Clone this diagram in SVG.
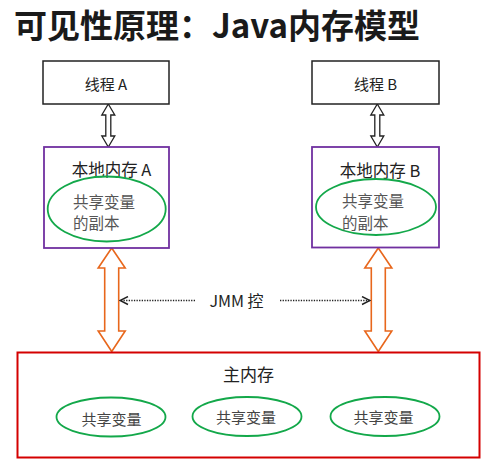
<svg xmlns="http://www.w3.org/2000/svg" width="496" height="468" viewBox="0 0 496 468">
<defs>
<style>
text{font-family:"Noto Sans CJK SC","Noto Sans",sans-serif;fill:#222}
.title{font-size:33px;font-weight:bold;fill:#1a1a1a}
.box{fill:#fff;stroke:#222;stroke-width:1.5}
.local{fill:#fff;stroke:#7030A0;stroke-width:1.8}
.main{fill:#fff;stroke:#D40000;stroke-width:2}
.ell{fill:none;stroke:#13A84A;stroke-width:1.8}
.small{fill:#fff;stroke:#222;stroke-width:1.3;stroke-linejoin:miter}
.big{fill:#fff;stroke:#E8671C;stroke-width:1.6;stroke-linejoin:miter}
.dot{stroke:#222;stroke-width:1.3;stroke-dasharray:1.3 1.3;fill:none}
.lbl{font-size:15px;text-anchor:middle;dominant-baseline:central}
.hd{font-size:16.5px;text-anchor:middle;dominant-baseline:central}
.var{font-size:15.5px;fill:#555}
.mv{font-size:15px;fill:#444;text-anchor:middle;dominant-baseline:central}
</style>
<marker id="chev" viewBox="0 0 10 10" refX="9" refY="5" markerWidth="10" markerHeight="10" markerUnits="userSpaceOnUse" orient="auto-start-reverse">
<path d="M1,1 L9,5 L1,9" fill="none" stroke="#222" stroke-width="1.4"/>
</marker>
</defs>
<text class="title" x="14" y="38">可见性原理：Java内存模型</text>

<g id="connectors">
<path class="small" d="M108.3,104 L114.8,115 L110.8,115 L110.8,136 L114.8,136 L108.3,147 L101.8,136 L105.8,136 L105.8,115 L101.8,115 Z"/>
<path class="small" d="M377.3,104 L383.8,115 L379.8,115 L379.8,136 L383.8,136 L377.3,147 L370.8,136 L374.8,136 L374.8,115 L370.8,115 Z"/>
<path class="big" d="M111.7,248 L125.2,268 L118.7,268 L118.7,331 L125.2,331 L111.7,351.5 L98.2,331 L104.7,331 L104.7,268 L98.2,268 Z"/>
<path class="big" d="M378.3,248 L391.8,268 L385.3,268 L385.3,331 L391.8,331 L378.3,351.5 L364.8,331 L371.3,331 L371.3,268 L364.8,268 Z"/>
<line class="dot" x1="195" y1="300.5" x2="120" y2="300.5" marker-end="url(#chev)"/>
<line class="dot" x1="280" y1="300.5" x2="370" y2="300.5" marker-end="url(#chev)"/>
<text class="hd" x="236.5" y="300" style="font-size:16px">JMM 控</text>
</g>

<g id="threadA">
<rect class="box" x="43" y="61" width="126" height="43"/>
<text class="lbl" x="106" y="83">线程 A</text>
</g>
<g id="threadB">
<rect class="box" x="312" y="61" width="127" height="43"/>
<text class="lbl" x="375.5" y="83">线程 B</text>
</g>

<g id="localA">
<rect class="local" x="44" y="147" width="125" height="101"/>
<text class="hd" x="111.5" y="169">本地内存 A</text>
<ellipse class="ell" cx="106.7" cy="209" rx="59" ry="32.5"/>
<text class="var" x="73" y="207.5"><tspan x="73" y="207.5">共享变量</tspan><tspan x="73" y="228.5">的副本</tspan></text>
</g>
<g id="localB">
<rect class="local" x="312" y="147" width="127" height="100.5"/>
<text class="hd" x="380" y="170">本地内存 B</text>
<ellipse class="ell" cx="376" cy="207" rx="60" ry="28"/>
<text class="var" x="342" y="207"><tspan x="342" y="207">共享变量</tspan><tspan x="342" y="228.5">的副本</tspan></text>
</g>

<g id="mainMemory">
<rect class="main" x="17.5" y="352.5" width="462" height="105"/>
<text class="hd" x="248.5" y="373" style="font-size:17px">主内存</text>
<g id="var1">
<ellipse class="ell" cx="111" cy="417" rx="54.5" ry="19.5"/>
<text class="mv" x="111.5" y="418">共享变量</text>
</g>
<g id="var2">
<ellipse class="ell" cx="247" cy="416.5" rx="54.5" ry="19.5"/>
<text class="mv" x="246" y="416.5">共享变量</text>
</g>
<g id="var3">
<ellipse class="ell" cx="385" cy="416.5" rx="54.5" ry="19.5"/>
<text class="mv" x="383.5" y="416.5">共享变量</text>
</g>
</g>
</svg>
